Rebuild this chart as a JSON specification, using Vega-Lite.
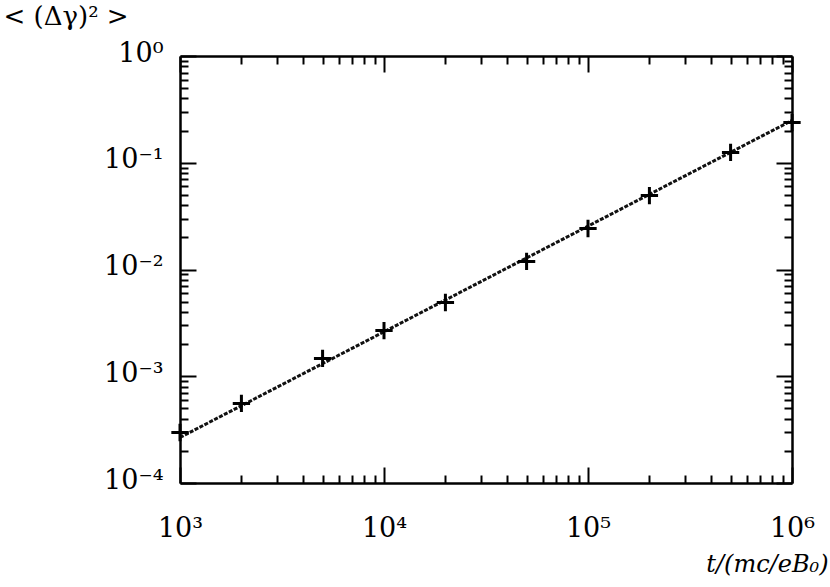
{
  "$schema": "https://vega.github.io/schema/vega-lite/v6.json",
  "width": 612,
  "height": 427,
  "autosize": {"type": "none"},
  "padding": {"left": 180, "top": 56, "right": 38, "bottom": 104},
  "background": "white",
  "config": {
    "font": "DejaVu Serif",
    "view": {"stroke": null},
    "axis": {
      "domainColor": "black",
      "domainWidth": 2.5,
      "tickColor": "black",
      "tickWidth": 2,
      "grid": false,
      "labelFont": "DejaVu Serif",
      "labelFontSize": 27,
      "labelColor": "black",
      "titleFont": "DejaVu Serif",
      "titleColor": "black",
      "titleFontWeight": "normal"
    }
  },
  "datasets": {
    "points": [
      {"t": 1000, "v": 0.000297},
      {"t": 2000, "v": 0.000556},
      {"t": 5000, "v": 0.00147},
      {"t": 10000, "v": 0.00268},
      {"t": 20000, "v": 0.00491},
      {"t": 50000, "v": 0.0119},
      {"t": 100000, "v": 0.0242},
      {"t": 200000, "v": 0.0493},
      {"t": 500000, "v": 0.125},
      {"t": 1000000, "v": 0.238}
    ],
    "fit": [
      {"t": 1000, "v": 0.000267},
      {"t": 1000000, "v": 0.249}
    ]
  },
  "layer": [
    {
      "data": {"name": "fit"},
      "mark": {"type": "line", "color": "#111111", "strokeWidth": 3, "strokeDash": [4, 1.5]},
      "encoding": {
        "x": {
          "field": "t", "type": "quantitative",
          "scale": {"type": "log", "domain": [1000, 1000000], "nice": false},
          "axis": {
            "orient": "bottom",
            "values": [1000,2000,3000,4000,5000,6000,7000,8000,9000,10000,20000,30000,40000,50000,60000,70000,80000,90000,100000,200000,300000,400000,500000,600000,700000,800000,900000,1000000],
            "tickSize": {"condition": {"test": "abs(log(datum.value)/LN10 - round(log(datum.value)/LN10)) < 1e-6", "value": -16}, "value": -8},
            "labelExpr": "abs(log(datum.value)/LN10 - round(log(datum.value)/LN10)) < 1e-6 ? '10' + ['⁰','¹','²','³','⁴','⁵','⁶'][round(log(datum.value)/LN10)] : ''",
            "labelPadding": 48,
            "labelBaseline": "top",
            "labelFlush": false,
            "labelOverlap": false,
            "title": "t/(mc/eB₀)",
            "titleFontSize": 24,
            "titleFontStyle": "italic",
            "titleAlign": "right",
            "titleAnchor": null,
            "titleBaseline": "alphabetic",
            "titleX": 648,
            "titleY": 88
          }
        },
        "y": {
          "field": "v", "type": "quantitative",
          "scale": {"type": "log", "domain": [0.0001, 1], "nice": false},
          "axis": {
            "orient": "left",
            "values": [0.0001,0.0002,0.0003,0.0004,0.0005,0.0006,0.0007,0.0008,0.0009,0.001,0.002,0.003,0.004,0.005,0.006,0.007,0.008,0.009,0.01,0.02,0.03,0.04,0.05,0.06,0.07,0.08,0.09,0.1,0.2,0.3,0.4,0.5,0.6,0.7,0.8,0.9,1],
            "tickSize": {"condition": {"test": "abs(log(datum.value)/LN10 - round(log(datum.value)/LN10)) < 1e-6", "value": -16}, "value": -8},
            "labelExpr": "abs(log(datum.value)/LN10 - round(log(datum.value)/LN10)) < 1e-6 ? '10' + ({'0':'⁰','-1':'⁻¹','-2':'⁻²','-3':'⁻³','-4':'⁻⁴'})['' + round(log(datum.value)/LN10)] : ''",
            "labelPadding": 33,
            "labelOffset": -3,
            "labelBaseline": "middle",
            "labelFlush": false,
            "labelOverlap": false,
            "title": "< (Δγ)² >",
            "titleFontSize": 26,
            "titleAngle": 0,
            "titleAlign": "left",
            "titleAnchor": null,
            "titleBaseline": "alphabetic",
            "titleX": -177,
            "titleY": -32
          }
        }
      }
    },
    {
      "data": {"name": "points"},
      "mark": {"type": "point", "shape": "M-1,0L1,0M0,-1L0,1", "size": 300, "stroke": "black", "strokeWidth": 3, "filled": false, "opacity": 1, "clip": false},
      "encoding": {
        "x": {
          "field": "t", "type": "quantitative",
          "scale": {"type": "log", "domain": [1000, 1000000], "nice": false},
          "axis": {
            "orient": "top",
            "values": [1000,2000,3000,4000,5000,6000,7000,8000,9000,10000,20000,30000,40000,50000,60000,70000,80000,90000,100000,200000,300000,400000,500000,600000,700000,800000,900000,1000000],
            "tickSize": {"condition": {"test": "abs(log(datum.value)/LN10 - round(log(datum.value)/LN10)) < 1e-6", "value": -16}, "value": -8},
            "labels": false,
            "title": null
          }
        },
        "y": {
          "field": "v", "type": "quantitative",
          "scale": {"type": "log", "domain": [0.0001, 1], "nice": false},
          "axis": {
            "orient": "right",
            "values": [0.0001,0.0002,0.0003,0.0004,0.0005,0.0006,0.0007,0.0008,0.0009,0.001,0.002,0.003,0.004,0.005,0.006,0.007,0.008,0.009,0.01,0.02,0.03,0.04,0.05,0.06,0.07,0.08,0.09,0.1,0.2,0.3,0.4,0.5,0.6,0.7,0.8,0.9,1],
            "tickSize": {"condition": {"test": "abs(log(datum.value)/LN10 - round(log(datum.value)/LN10)) < 1e-6", "value": -16}, "value": -8},
            "labels": false,
            "title": null
          }
        }
      }
    }
  ],
  "resolve": {"axis": {"x": "independent", "y": "independent"}}
}
